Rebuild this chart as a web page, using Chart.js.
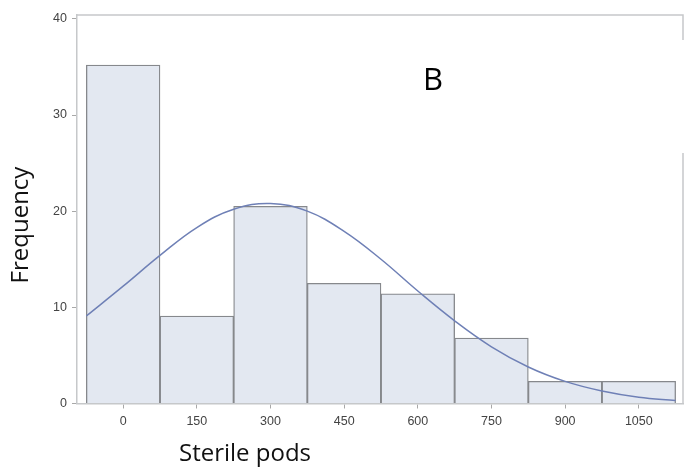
<!DOCTYPE html>
<html>
<head>
<meta charset="utf-8">
<script src="https://cdn.jsdelivr.net/npm/chart.js@4/dist/chart.umd.min.js"></script>
<style>
  html, body { margin: 0; padding: 0; background: #fff; }
  #wrap { width: 690px; height: 473px; position: relative; }
</style>
</head>
<body>
<div id="wrap"><canvas id="histChart"></canvas></div>
<script>
// bin midpoints (sterile pods) and percent of plants in each bin
const binMids = [0, 150, 300, 450, 600, 750, 900, 1050];
const binPercent = [35.2, 9.1, 20.5, 12.5, 11.4, 6.8, 2.3, 2.3];

// fitted normal curve, read at every half bin
const curveX = [-75, 0, 75, 150, 225, 300, 375, 450, 525, 600, 675, 750, 825, 900, 975, 1050, 1125];
const curveY = [9.1, 12.2, 15.4, 18.3, 20.2, 20.8, 20.0, 17.9, 15.0, 11.7, 8.6, 5.9, 3.8, 2.3, 1.3, 0.65, 0.3];

const xTicks = [0, 150, 300, 450, 600, 750, 900, 1050];
const yTicks = [0, 10, 20, 30, 40];

const frameColor = '#c6c8ca';
const tickColor = '#a8a8a8';

// top and right edges of the plot frame (right edge has a gap near the top)
const framePlugin = {
  id: 'frame',
  afterDatasetsDraw(chart) {
    const { ctx, chartArea: a } = chart;
    ctx.save();
    ctx.strokeStyle = frameColor;
    ctx.lineWidth = 1.5;
    ctx.beginPath();
    ctx.moveTo(a.left, a.top);
    ctx.lineTo(a.right, a.top);
    ctx.lineTo(a.right, 40);
    ctx.moveTo(a.right, 153);
    ctx.lineTo(a.right, a.bottom);
    ctx.stroke();
    ctx.restore();
  }
};

// axis titles and the panel letter
const labelPlugin = {
  id: 'labels',
  afterDraw(chart) {
    const ctx = chart.ctx;
    ctx.save();
    ctx.fillStyle = '#111';
    ctx.textAlign = 'center';
    ctx.textBaseline = 'middle';
    ctx.font = '24px "Open Sans"';
    ctx.fillText('Sterile pods', 245, 454);
    ctx.save();
    ctx.translate(21, 225);
    ctx.rotate(-Math.PI / 2);
    ctx.fillText('Frequency', 0, 0);
    ctx.restore();
    ctx.fillStyle = '#000';
    ctx.font = '31px "Open Sans"';
    ctx.textBaseline = 'alphabetic';
    ctx.fillText('B', 433, 90);
    ctx.restore();
  }
};

new Chart(document.getElementById('histChart'), {
  data: {
    datasets: [
      {
        type: 'line',
        data: curveX.map((x, i) => ({ x: x, y: curveY[i] })),
        borderColor: '#6f80b6',
        borderWidth: 1.5,
        pointRadius: 0,
        tension: 0.4,
        fill: false,
        order: 0
      },
      {
        type: 'bar',
        data: binMids.map((x, i) => ({ x: x, y: binPercent[i] })),
        backgroundColor: '#e3e8f1',
        borderColor: '#86888c',
        borderWidth: 1.3,
        barPercentage: 1.0,
        categoryPercentage: 1.0,
        order: 1
      }
    ]
  },
  options: {
    responsive: true,
    maintainAspectRatio: false,
    animation: false,
    layout: { padding: { left: 0, right: 7, top: 15, bottom: 0 } },
    plugins: { legend: { display: false }, tooltip: { enabled: false } },
    scales: {
      x: {
        type: 'linear',
        offset: false,
        min: -94,
        max: 1140,
        afterBuildTicks: s => { s.ticks = xTicks.map(v => ({ value: v })); },
        afterFit: s => { s.height = 69.5; },
        border: { display: true, color: frameColor, width: 1.5 },
        grid: { offset: false, drawOnChartArea: false, drawTicks: true, tickLength: 5, color: tickColor },
        ticks: {
          color: '#444',
          font: { family: 'Liberation Sans', size: 12.5 },
          padding: 6,
          maxRotation: 0,
          callback: v => String(v)
        }
      },
      y: {
        type: 'linear',
        min: 0,
        max: 40.4,
        afterBuildTicks: s => { s.ticks = yTicks.map(v => ({ value: v })); },
        afterFit: s => { s.width = 77; },
        border: { display: true, color: frameColor, width: 1.5 },
        grid: { drawOnChartArea: false, drawTicks: true, tickLength: 5, color: tickColor },
        ticks: { color: '#444', font: { family: 'Liberation Sans', size: 12.5 }, padding: 5 }
      }
    }
  },
  plugins: [framePlugin, labelPlugin]
});
</script>
</body>
</html>
